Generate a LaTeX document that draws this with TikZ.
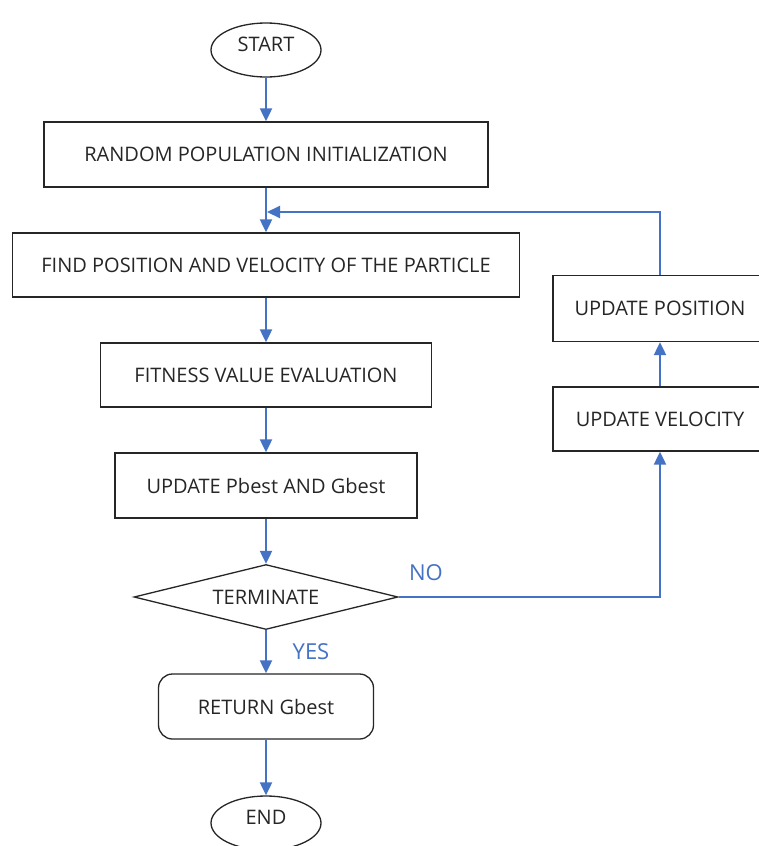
\documentclass[tikz,border=0pt]{standalone}
\usepackage{fontspec}
\setmainfont{Open Sans}
\usetikzlibrary{shapes.geometric,arrows.meta}
\definecolor{flowblue}{HTML}{4472C4}
\definecolor{edge}{HTML}{262626}
\tikzset{
  labelfont/.style={font=\fontsize{20}{24}\selectfont, text=edge},
  box/.style={draw=edge, line width=1.3pt, rectangle, minimum height=65pt,
    labelfont, inner sep=0pt},
  roundbox/.style={box, rounded corners=14pt},
  oval/.style={draw=edge, line width=1.3pt, ellipse, minimum width=110pt,
    minimum height=54pt, inner sep=0pt},
  decision/.style={draw=edge, line width=1.3pt, diamond, aspect=4.06,
    minimum width=264pt, minimum height=65pt, inner sep=0pt, labelfont},
  flow/.style={draw=flowblue, line width=2pt,
    -{Triangle[width=12pt,length=13pt]}},
  branch/.style={text=flowblue, font=\fontsize{22}{26}\selectfont}
}
\begin{document}
\begin{tikzpicture}[x=1pt,y=1pt]
  \useasboundingbox (0,0) rectangle (758,-846);
  \fill[white] (0,0) rectangle (758,-846);

  % main column
  \node[oval] (start) at (266,-50) {};
  \node[labelfont] (starttxt) at (266,-44) {START};
  \node[box, minimum width=444pt] (init) at (266,-154.5) {RANDOM POPULATION INITIALIZATION};
  \node[box, minimum width=507pt, minimum height=64pt] (find) at (266,-265) {FIND POSITION AND VELOCITY OF THE PARTICLE};
  \node[box, minimum width=331pt, minimum height=64pt] (fit) at (266,-375) {FITNESS VALUE EVALUATION};
  \node[box, minimum width=302pt] (best) at (266,-485.5) {UPDATE Pbest AND Gbest};
  \node[decision] (term) at (266,-597) {TERMINATE};
  \node[roundbox, minimum width=215pt] (ret) at (266,-706.5) {RETURN Gbest};
  \node[oval] (end) at (266,-823) {};
  \node[labelfont] (endtxt) at (266,-817) {END};

  % update column
  \node[box, minimum width=214pt, minimum height=66pt] (pos) at (660,-308.5) {UPDATE POSITION};
  \node[box, minimum width=214pt, minimum height=64pt] (vel) at (660,-419) {UPDATE VELOCITY};

  % branch labels
  \node[branch] (no) at (426,-573) {NO};
  \node[branch] (yes) at (311,-652) {YES};

  % connectors
  \draw[flow] (start.south) -- (init.north);
  \draw[flow] (init.south) -- (find.north);
  \draw[flow] (find.south) -- (fit.north);
  \draw[flow] (fit.south) -- (best.north);
  \draw[flow] (best.south) -- (term.north);
  \draw[flow] (term.south) -- (ret.north);
  \draw[flow] (ret.south) -- (end.north);

  \coordinate (corner) at (vel.south |- term.east);
  \draw[flow] (term.east) -- (corner) -- (vel.south);
  \draw[flow] (vel.north) -- (pos.south);

  \coordinate (loopturn) at (660,-212);
  \coordinate (loopend) at (267,-212);
  \draw[flow] (pos.north) -- (loopturn) -- (loopend);
\end{tikzpicture}
\end{document}
